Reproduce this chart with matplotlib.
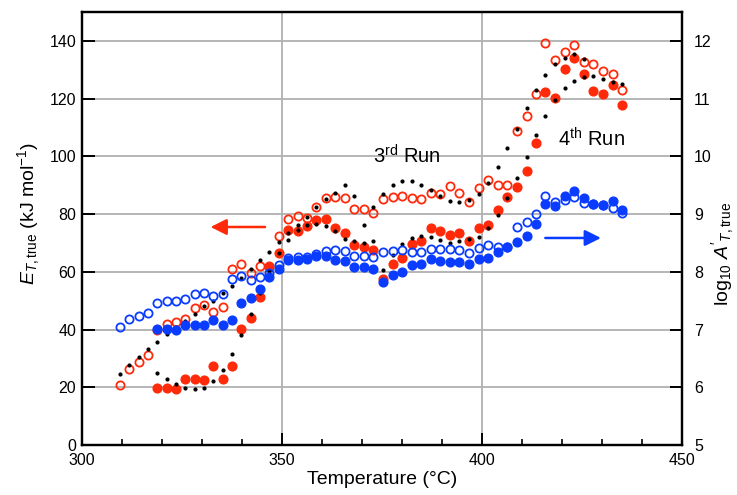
import numpy as np
import matplotlib
matplotlib.use('Agg')
import matplotlib.pyplot as plt
from matplotlib.ticker import MultipleLocator

plt.rcParams['font.family'] = ['Liberation Sans', 'DejaVu Sans']
plt.rcParams['mathtext.fontset'] = 'custom'
plt.rcParams['mathtext.rm'] = 'Liberation Sans'
plt.rcParams['mathtext.it'] = 'Liberation Sans:italic'

# temperatures (°C), one per point
temp = [309.5, 311.8, 314.2, 316.5, 318.9, 321.2, 323.5, 325.9, 328.2, 330.6,
        332.9, 335.2, 337.6, 339.9, 342.3, 344.6, 346.9, 349.3, 351.6, 354.0,
        356.3, 358.6, 361.0, 363.3, 365.7, 368.1, 370.5, 372.9, 375.3, 377.7,
        380.1, 382.5, 384.8, 387.2, 389.6, 392.0, 394.4, 396.8, 399.2, 401.6,
        404.0, 406.4, 408.8, 411.2, 413.5, 415.9, 418.3, 420.7, 423.1, 425.5,
        427.9, 430.3, 432.7, 435.1]

# activation energy, open red (all temps)
E_open = [20.7, 26.3, 28.7, 31.2, 40.0, 41.9, 42.5, 43.5, 47.6, 48.4,
          46.1, 47.9, 61.0, 62.6, 59.7, 62.1, 62.1, 72.4, 78.2, 79.3,
          78.7, 82.4, 85.7, 85.9, 85.4, 81.8, 81.7, 80.3, 85.2, 85.9,
          86.2, 85.5, 85.2, 87.3, 87.0, 89.7, 87.2, 84.2, 89.1, 91.7,
          90.2, 90.1, 108.6, 113.8, 121.4, 139.2, 133.5, 136.2, 138.5, 132.5,
          132.0, 129.5, 128.4, 123.1]

# activation energy, filled red (from 5th temp on)
E_fill = [19.8, 19.8, 19.5, 23.0, 23.0, 22.5, 27.5, 23.0, 27.5, 40.2,
          43.9, 51.3, 61.6, 66.6, 74.6, 74.0, 75.7, 78.0, 78.2, 75.0,
          73.4, 69.4, 68.5, 67.4, 57.5, 62.8, 64.7, 69.6, 70.6, 75.2,
          74.2, 72.9, 73.5, 70.5, 75.2, 76.2, 81.3, 85.8, 89.5, 94.8,
          104.6, 122.2, 120.1, 130.2, 134.0, 128.4, 122.7, 121.4, 124.8, 117.8]

# log10 A', open blue (all temps)
logA_open = [7.05, 7.18, 7.23, 7.28, 7.46, 7.49, 7.50, 7.53, 7.61, 7.63,
             7.58, 7.62, 7.88, 7.92, 7.86, 7.91, 7.98, 8.11, 8.23, 8.25,
             8.26, 8.30, 8.36, 8.37, 8.36, 8.28, 8.28, 8.25, 8.35, 8.36,
             8.37, 8.35, 8.35, 8.39, 8.40, 8.40, 8.38, 8.33, 8.42, 8.46,
             8.43, 8.43, 8.77, 8.86, 9.00, 9.32, 9.21, 9.25, 9.30, 9.19,
             9.18, 9.16, 9.11, 9.02]

# log10 A', filled blue (from 5th temp on)
logA_fill = [7.01, 7.01, 7.00, 7.08, 7.08, 7.07, 7.17, 7.08, 7.17, 7.46,
             7.54, 7.71, 7.91, 8.05, 8.21, 8.21, 8.22, 8.28, 8.28, 8.21,
             8.18, 8.09, 8.08, 8.05, 7.83, 7.95, 7.99, 8.11, 8.13, 8.22,
             8.19, 8.17, 8.17, 8.13, 8.22, 8.24, 8.35, 8.43, 8.51, 8.62,
             8.82, 9.17, 9.13, 9.32, 9.39, 9.28, 9.18, 9.15, 9.22, 9.07]

# small black dots
dots_a = [24.6, 27.7, 30.6, 33.3, 35.8, 38.4, 41.0, 43.1, 45.3, 48.2,
          50.0, 52.6, 55.2, 58.0, 61.0, 63.9, 67.0, 70.3, 73.4, 76.3,
          79.0, 82.4, 85.2, 87.4, 90.0, 86.4, 76.3, 82.3, 87.1, 90.1,
          91.5, 91.5, 90.1, 88.2, 86.2, 84.6, 84.0, 84.8, 87.0, 90.7,
          96.3, 102.8, 109.5, 116.8, 123.0, 128.2, 131.9, 134.0, 135.5, 133.7,
          127.7, 126.7, 125.7, 125.0]
dots_b = [24.8, 23.0, 21.0, 19.8, 19.3, 19.9, 22.3, 26.0, 31.5, 38.0,
          45.3, 52.7, 60.1, 66.5, 71.0, 74.5, 76.3, 76.7, 75.8, 74.0,
          71.5, 70.7, 69.9, 70.8, 60.6, 65.8, 69.5, 71.7, 72.4, 72.0,
          71.0, 69.8, 70.5, 71.5, 72.2, 75.2, 79.5, 85.6, 92.4, 99.9,
          107.4, 114.0, 119.5, 123.6, 126.2, 127.6]

red = '#ff2a0a'
blue = '#0a3cff'

fig = plt.figure(figsize=(7.37, 4.95), dpi=100)
ax = fig.add_axes([0.111, 0.101, 0.814, 0.875])
ax2 = ax.twinx()

t = np.array(temp)
ax.plot(t, E_open, 'o', mfc='none', mec=red, mew=1.3, ms=5.9, zorder=3)
ax.plot(t[4:], E_fill, 'o', color=red, ms=6.3, zorder=3)
ax.plot(t, dots_a, 'o', color='black', ms=2.0, zorder=4)
ax.plot(t[4:4 + len(dots_b)], dots_b, 'o', color='black', ms=2.0, zorder=4)

ax2.plot(t, logA_open, 'o', mfc='none', mec=blue, mew=1.3, ms=5.9, zorder=3)
ax2.plot(t[4:], logA_fill, 'o', color=blue, ms=6.3, zorder=3)

ax.set_xlim(300, 450)
ax.set_ylim(0, 150)
ax2.set_ylim(5, 12.5)

ax.xaxis.set_major_locator(MultipleLocator(50))
ax.xaxis.set_minor_locator(MultipleLocator(10))
ax.yaxis.set_major_locator(MultipleLocator(20))
ax2.yaxis.set_major_locator(MultipleLocator(1))

ax.grid(True, which='major', color='#b0b0b0', lw=1.3)
ax.set_axisbelow(True)

ax.tick_params(which='major', direction='in', length=9, width=1.4, labelsize=11.5,
               top=False, right=False, pad=4)
ax.tick_params(axis='x', which='major', pad=6)
ax.tick_params(which='minor', direction='in', length=4, width=1.2, top=False)
ax2.tick_params(which='major', direction='in', length=9, width=1.4, labelsize=11.5, pad=9)

for a in (ax, ax2):
    for s in a.spines.values():
        s.set_linewidth(1.6)

ax.set_xlabel('Temperature (°C)', fontsize=14, labelpad=2)
ax.set_ylabel(r'$E_{T\rm{,true}}$ (kJ mol$^{-1}$)', fontsize=14)
ax2.set_ylabel(r"log$_{10}$ $A'_{T\rm{,true}}$", fontsize=14)
ax.yaxis.set_label_coords(-0.067, 0.535)
ax2.yaxis.set_label_coords(1.045, 0.44)

ax.text(381.3, 96, r'3$^{\rm rd}$ Run', fontsize=14.5, ha='center', va='bottom')
ax.text(427.5, 102, r'4$^{\rm th}$ Run', fontsize=14.5, ha='center', va='bottom')

ax.annotate('', xy=(331.5, 75.5), xytext=(346.5, 75.5),
            arrowprops=dict(arrowstyle='-|>', color=red, lw=1.8,
                            mutation_scale=24))
ax.annotate('', xy=(430.5, 71.7), xytext=(415.2, 71.7),
            arrowprops=dict(arrowstyle='-|>', color=blue, lw=1.8,
                            mutation_scale=24))

fig.savefig('out.png', dpi=100)
